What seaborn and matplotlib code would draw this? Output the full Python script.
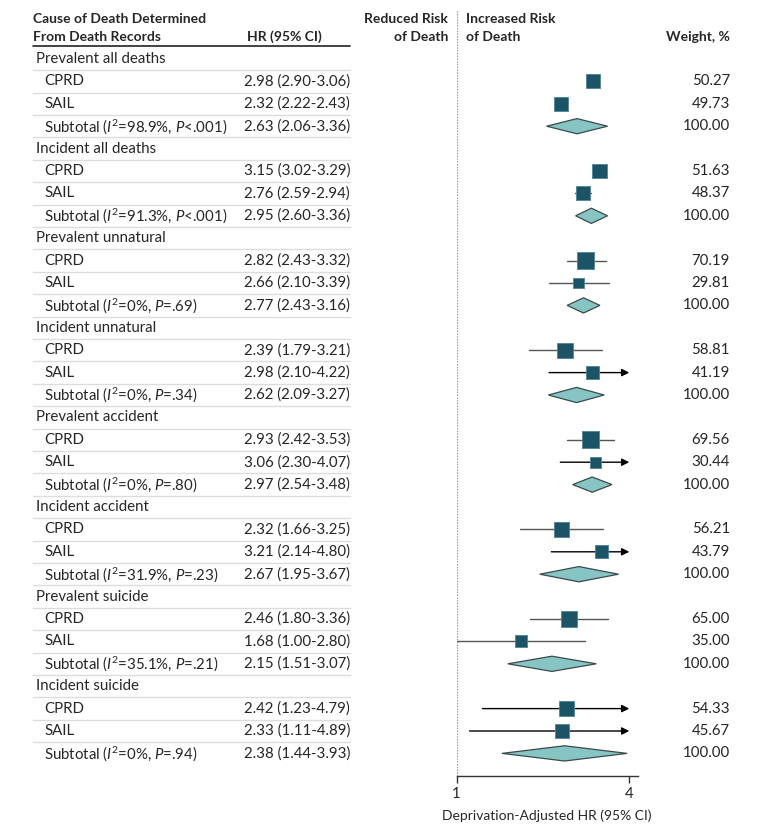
import numpy as np
import pandas as pd
import matplotlib
matplotlib.use("Agg")
import matplotlib.pyplot as plt
import matplotlib.transforms as mtransforms
from matplotlib.patches import Polygon
import seaborn as sns

# ==============================
# Dados
# ==============================
groups = ["Prevalent all deaths", "Incident all deaths", "Prevalent unnatural",
          "Incident unnatural", "Prevalent accident", "Incident accident",
          "Prevalent suicide", "Incident suicide"]
cprd_hr = [2.98, 3.15, 2.82, 2.39, 2.93, 2.32, 2.46, 2.42]
cprd_lo = [2.90, 3.02, 2.43, 1.79, 2.42, 1.66, 1.80, 1.23]
cprd_hi = [3.06, 3.29, 3.32, 3.21, 3.53, 3.25, 3.36, 4.79]
sail_hr = [2.32, 2.76, 2.66, 2.98, 3.06, 3.21, 1.68, 2.33]
sail_lo = [2.22, 2.59, 2.10, 2.10, 2.30, 2.14, 1.00, 1.11]
sail_hi = [2.43, 2.94, 3.39, 4.22, 4.07, 4.80, 2.80, 4.89]
sub_hr = [2.63, 2.95, 2.77, 2.62, 2.97, 2.67, 2.15, 2.38]
sub_lo = [2.06, 2.60, 2.43, 2.09, 2.54, 1.95, 1.51, 1.44]
sub_hi = [3.36, 3.36, 3.16, 3.27, 3.48, 3.67, 3.07, 3.93]
cprd_w = [50.27, 51.63, 70.19, 58.81, 69.56, 56.21, 65.00, 54.33]
sail_w = [49.73, 48.37, 29.81, 41.19, 30.44, 43.79, 35.00, 45.67]
i2_vals = ["98.9%", "91.3%", "0%", "0%", "0%", "31.9%", "35.1%", "0%"]
p_vals = ["<.001", "<.001", "=.69", "=.34", "=.80", "=.23", "=.21", "=.94"]
xticks = [1, 4]

# ==============================
# Estilo
# ==============================
sns.set_style("white")
plt.rcParams["font.family"] = ["Lato", "DejaVu Sans"]
plt.rcParams["mathtext.fontset"] = "custom"
plt.rcParams["mathtext.rm"] = "Lato"
plt.rcParams["mathtext.it"] = "Lato:italic"
FS = 10.8
FSB = 10
BOX = "#1d5366"
DIA = "#86c5c3"

W, H = 780, 834
fig = plt.figure(figsize=(W / 100, H / 100), dpi=100)

def fx(px):
    return px / W

def fy(py):
    return 1 - py / H

Y0, DY = 59, 22.4
ax = fig.add_axes([fx(456.5), fy(776), fx(638) - fx(456.5), fy(10) - fy(776)])
ax.set_xscale("log")
ax.set_xlim(1, 4.29)
ax.set_ylim((776 - Y0) / DY, (10 - Y0) / DY)

tr = mtransforms.blended_transform_factory(fig.transFigure, ax.transData)

# linhas: grupo, CPRD, SAIL, Subtotal
rows = []
for g in range(len(groups)):
    base = 4 * g
    rows.append((base + 1, cprd_hr[g], cprd_lo[g], cprd_hi[g], cprd_w[g]))
    rows.append((base + 2, sail_hr[g], sail_lo[g], sail_hi[g], sail_w[g]))
study = pd.DataFrame(rows, columns=["y", "hr", "lo", "hi", "w"])

# intervalos
for _, r in study.iterrows():
    if r["hi"] > 4:
        ax.annotate("", xy=(4, r["y"]), xytext=(r["lo"], r["y"]),
                    arrowprops=dict(arrowstyle="-|>", color="black", lw=1,
                                    mutation_scale=11, shrinkA=0, shrinkB=0))
    else:
        ax.plot([r["lo"], r["hi"]], [r["y"], r["y"]], color="#555555", lw=1, zorder=2)

sns.scatterplot(data=study, x="hr", y="y", marker="s", s=study["w"] * 2.07,
                color=BOX, edgecolor="#4f8597", linewidth=0.6, legend=False,
                ax=ax, zorder=3)

# diamantes
for g in range(len(groups)):
    y = 4 * g + 3
    poly = Polygon([(sub_lo[g], y), (sub_hr[g], y - 0.34), (sub_hi[g], y), (sub_hr[g], y + 0.34)],
                   closed=True, facecolor=DIA, edgecolor="#3b4a4c", lw=0.9, zorder=3)
    ax.add_patch(poly)

ax.axvline(1, color="#9a9a9a", lw=1, ls=(0, (1, 1)), zorder=1)

for s in ["top", "right", "left"]:
    ax.spines[s].set_visible(False)
ax.spines["bottom"].set_color("#333333")
ax.spines["bottom"].set_linewidth(1)
ax.set_yticks([])
ax.set_xticks(xticks)
ax.set_xticklabels([str(t) for t in xticks])
ax.xaxis.set_minor_locator(matplotlib.ticker.NullLocator())
ax.tick_params(axis="x", direction="out", length=5, width=1, color="#333333",
               labelsize=FS, pad=3, bottom=True)
ax.set_xlabel("Deprivation-Adjusted HR (95% CI)", fontsize=10, labelpad=6)
ax.set_ylabel("")

# ==============================
# Textos da tabela
# ==============================
for g in range(len(groups)):
    base = 4 * g
    ax.text(fx(36), base, groups[g], transform=tr, fontsize=FS, va="center", ha="left")
    ax.text(fx(44), base + 1, "CPRD", transform=tr, fontsize=FS, va="center", ha="left")
    ax.text(fx(44), base + 2, "SAIL", transform=tr, fontsize=FS, va="center", ha="left")
    ax.text(fx(44), base + 3,
            "Subtotal ($I$$^{2}$=" + i2_vals[g] + ", $P$" + p_vals[g] + ")",
            transform=tr, fontsize=FS, va="center", ha="left")
    ax.text(fx(350), base + 1, f"{cprd_hr[g]:.2f} ({cprd_lo[g]:.2f}-{cprd_hi[g]:.2f})",
            transform=tr, fontsize=FS, va="center", ha="right")
    ax.text(fx(350), base + 2, f"{sail_hr[g]:.2f} ({sail_lo[g]:.2f}-{sail_hi[g]:.2f})",
            transform=tr, fontsize=FS, va="center", ha="right")
    ax.text(fx(350), base + 3, f"{sub_hr[g]:.2f} ({sub_lo[g]:.2f}-{sub_hi[g]:.2f})",
            transform=tr, fontsize=FS, va="center", ha="right")
    ax.text(fx(730), base + 1, f"{cprd_w[g]:.2f}", transform=tr, fontsize=FS, va="center", ha="right")
    ax.text(fx(730), base + 2, f"{sail_w[g]:.2f}", transform=tr, fontsize=FS, va="center", ha="right")
    ax.text(fx(730), base + 3, "100.00", transform=tr, fontsize=FS, va="center", ha="right")

n_rows = 4 * len(groups)
for r in range(n_rows - 1):
    ax.plot([fx(33), fx(350)], [r + 0.5, r + 0.5], transform=tr, color="#dcdcdc",
            lw=1, clip_on=False)
ax.plot([fx(33), fx(350)], [(46 - Y0) / DY] * 2, transform=tr, color="#222222",
        lw=1.2, clip_on=False)

# cabeçalhos
fig.text(fx(33), fy(19), "Cause of Death Determined", fontsize=FSB, fontweight="bold", va="center")
fig.text(fx(33), fy(37), "From Death Records", fontsize=FSB, fontweight="bold", va="center")
fig.text(fx(247), fy(37), "HR (95% CI)", fontsize=FSB, fontweight="bold", va="center")
fig.text(fx(448), fy(19), "Reduced Risk", fontsize=FSB, fontweight="bold", va="center", ha="right")
fig.text(fx(448), fy(37), "of Death", fontsize=FSB, fontweight="bold", va="center", ha="right")
fig.text(fx(466), fy(19), "Increased Risk", fontsize=FSB, fontweight="bold", va="center")
fig.text(fx(466), fy(37), "of Death", fontsize=FSB, fontweight="bold", va="center")
fig.text(fx(730), fy(37), "Weight, %", fontsize=FSB, fontweight="bold", va="center", ha="right")

fig.savefig("out.png", dpi=100)
